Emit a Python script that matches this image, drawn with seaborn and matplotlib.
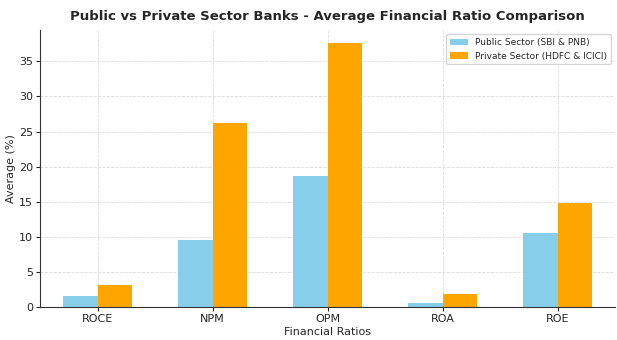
import pandas as pd
import matplotlib.pyplot as plt
import seaborn as sns

# Average ratios
ratios = ['ROCE', 'NPM', 'OPM', 'ROA', 'ROE']
public_avg = [1.6, 9.6, 18.6, 0.6, 10.6]
private_avg = [3.1, 26.2, 37.6, 1.8, 14.8]
sectors = ['Public Sector (SBI & PNB)', 'Private Sector (HDFC & ICICI)']

df = pd.DataFrame({
    'Ratio': ratios * 2,
    'Average': public_avg + private_avg,
    'Sector': [sectors[0]] * len(ratios) + [sectors[1]] * len(ratios),
})

sns.set_style('whitegrid', {'grid.linestyle': '--', 'grid.color': '#dddddd'})
plt.rcParams['font.family'] = ['DejaVu Sans']

fig, ax = plt.subplots(figsize=(6.17, 3.4), dpi=100)
sns.barplot(data=df, x='Ratio', y='Average', hue='Sector', ax=ax,
            palette=['skyblue', 'orange'], width=0.6, saturation=1,
            linewidth=0, gap=0)

ax.set_title('Public vs Private Sector Banks - Average Financial Ratio Comparison',
             fontsize=9.5, fontweight='bold', pad=7)
ax.set_xlabel('Financial Ratios', fontsize=8, labelpad=2)
ax.set_ylabel('Average (%)', fontsize=8, labelpad=2)
ax.tick_params(labelsize=8, length=3, pad=2)
ax.legend(fontsize=6.5, loc='upper right')
for s in ['top', 'right']:
    ax.spines[s].set_visible(False)
for s in ['left', 'bottom']:
    ax.spines[s].set_color('#333333')
ax.grid(True, axis='both', linestyle='--', linewidth=0.6)
ax.tick_params(axis='both', which='both', bottom=True, left=True)
fig.subplots_adjust(left=0.065, right=0.997, bottom=0.097, top=0.912)
plt.savefig('out.png')
